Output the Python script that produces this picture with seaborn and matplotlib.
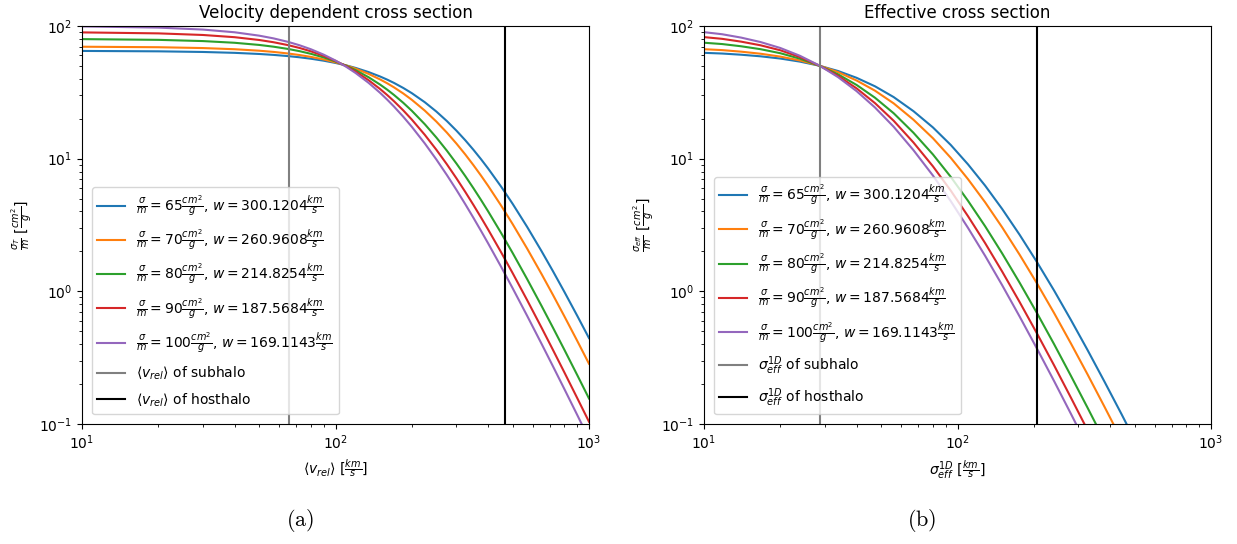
import matplotlib
matplotlib.use("Agg")
import matplotlib.pyplot as plt
import seaborn as sns

# ---------------- data ----------------
sigma0 = [65, 70, 80, 90, 100]
w_values = ["300.1204", "260.9608", "214.8254", "187.5684", "169.1143"]
colors = ["#1f77b4", "#ff7f0e", "#2ca02c", "#d62728", "#9467bd"]

# panel (a): velocity dependent cross section
v_rel = [10, 20, 30, 40, 50, 57, 65, 72, 80, 90, 100, 110, 120, 135, 150, 160,
         170, 185, 200, 225, 250, 275, 300, 325, 350, 375, 400, 450, 500, 570,
         650, 720, 800, 900, 1000]
sigT_65 = [64.86, 64.43, 63.72, 62.75, 61.54, 60.55, 59.31, 58.12, 56.66, 54.72,
           52.66, 50.52, 48.32, 44.96, 41.61, 39.41, 37.26, 34.13, 31.17, 26.64,
           22.65, 19.21, 16.26, 13.77, 11.67, 9.909, 8.43, 6.161, 4.56, 3.062,
           2.007, 1.424, 0.989, 0.6509, 0.444]
sigT_70 = [69.79, 69.19, 68.19, 66.82, 65.13, 63.77, 62.06, 60.45, 58.49, 55.91,
           53.22, 50.47, 47.70, 43.56, 39.55, 36.98, 34.50, 31.01, 27.78, 23.03,
           19.03, 15.72, 12.99, 10.76, 8.936, 7.452, 6.24, 4.433, 3.208, 2.102,
           1.349, 0.9438, 0.647, 0.4210, 0.2846]
sigT_80 = [79.65, 78.63, 76.97, 74.73, 71.99, 69.82, 67.14, 64.66, 61.70, 57.89,
           54.04, 50.22, 46.47, 41.12, 36.15, 33.10, 30.25, 26.38, 22.96, 18.19,
           14.43, 11.49, 9.19, 7.397, 5.990, 4.884, 4.009, 2.756, 1.943, 1.238,
           0.776, 0.5346, 0.362, 0.2325, 0.1557]
sigT_90 = [89.49, 87.99, 85.57, 82.34, 78.45, 75.43, 71.74, 68.37, 64.43, 59.47,
           54.57, 49.83, 45.31, 39.06, 33.48, 30.15, 27.13, 23.13, 19.71, 15.13,
           11.67, 9.073, 7.109, 5.619, 4.480, 3.604, 2.924, 1.972, 1.370, 0.8592,
           0.532, 0.3635, 0.2444, 0.1559, 0.1040]
sigT_100 = [99.30, 97.26, 93.99, 89.68, 84.57, 80.64, 75.91, 71.67, 66.77, 60.73,
            54.90, 49.38, 44.24, 37.31, 31.33, 27.84, 24.74, 20.72, 17.38, 13.03,
            9.856, 7.530, 5.815, 4.540, 3.583, 2.856, 2.300, 1.532, 1.054, 0.6545,
            0.402, 0.2734, 0.183, 0.1163, 0.0773]
v_sub = 65.3
v_host = 465.0

# panel (b): effective cross section
sigma_1d = [10, 11.80, 14, 16.71, 20, 23.90, 28.5, 33.81, 40, 47.27, 56, 67.01,
            80, 94.09, 110, 128.5, 150, 175.8, 206, 240.4, 280, 326.1, 380,
            444.1, 520]
sigE_65 = [62.77, 62.01, 60.75, 59.10, 56.84, 53.90, 50.20, 45.78, 40.67, 35.11,
           29.12, 22.82, 17.20, 12.68, 9.063, 6.265, 4.180, 2.670, 1.657, 1.015,
           0.6099, 0.3601, 0.2086, 0.1182, 0.0656]
sigE_70 = [66.85, 65.80, 64.06, 61.81, 58.80, 54.98, 50.31, 44.87, 38.83, 32.54,
           26.11, 19.67, 14.26, 10.14, 7.010, 4.693, 3.039, 1.889, 1.145, 0.6867,
           0.4055, 0.2359, 0.1349, 0.0756, 0.0416]
sigE_80 = [74.81, 73.09, 70.35, 66.88, 62.35, 56.71, 50.22, 43.21, 35.93, 28.79,
           22.00, 15.69, 10.76, 7.288, 4.814, 3.096, 1.933, 1.162, 0.6839, 0.3999,
           0.2312, 0.1323, 0.0747, 0.0414, 0.0225]
sigE_90 = [82.46, 80.01, 76.24, 71.55, 65.62, 58.35, 50.32, 42.05, 33.86, 26.21,
           19.31, 13.25, 8.755, 5.742, 3.687, 2.311, 1.411, 0.8308, 0.4801, 0.2770,
           0.1583, 0.0897, 0.0502, 0.0276, 0.0149]
sigE_100 = [89.87, 86.66, 81.78, 75.70, 68.28, 59.64, 50.40, 41.14, 32.28, 24.30,
            17.40, 11.60, 7.459, 4.781, 3.009, 1.853, 1.113, 0.6459, 0.3688,
            0.2108, 0.1196, 0.0674, 0.0375, 0.0205, 0.0110]
s_sub = 28.8
s_host = 206.0

sigT_all = [sigT_65, sigT_70, sigT_80, sigT_90, sigT_100]
sigE_all = [sigE_65, sigE_70, sigE_80, sigE_90, sigE_100]

# ---------------- figure ----------------
W, H = 1237, 544
fig = plt.figure(figsize=(W / 100, H / 100), dpi=100)
ax1 = fig.add_axes([82 / W, 1 - 424 / H, 507 / W, 398 / H])
ax2 = fig.add_axes([704 / W, 1 - 424 / H, 507 / W, 398 / H])


def label_for(s0, w):
    return (r"$\frac{\sigma}{m} = %d\frac{cm^2}{g}$, $w = %s\frac{km}{s}$"
            % (s0, w))


for s0, w, c, ys in zip(sigma0, w_values, colors, sigT_all):
    sns.lineplot(x=v_rel, y=ys, ax=ax1, color=c, linewidth=1.5,
                 label=label_for(s0, w))
ax1.axvline(v_sub, color="grey", linewidth=1.5,
            label=r"$\langle v_{rel} \rangle$ of subhalo")
ax1.axvline(v_host, color="black", linewidth=1.5,
            label=r"$\langle v_{rel} \rangle$ of hosthalo")

for s0, w, c, ys in zip(sigma0, w_values, colors, sigE_all):
    sns.lineplot(x=sigma_1d, y=ys, ax=ax2, color=c, linewidth=1.5,
                 label=label_for(s0, w))
ax2.axvline(s_sub, color="grey", linewidth=1.5,
            label=r"$\sigma_{eff}^{1D}$ of subhalo")
ax2.axvline(s_host, color="black", linewidth=1.5,
            label=r"$\sigma_{eff}^{1D}$ of hosthalo")

for ax in (ax1, ax2):
    ax.set_xscale("log")
    ax.set_yscale("log")
    ax.set_xlim(10, 1000)
    ax.set_ylim(0.1, 100)
    ax.legend(loc="lower left", fontsize=10, labelspacing=0.68,
              borderaxespad=0.7)

ax1.set_title("Velocity dependent cross section", fontsize=12)
ax2.set_title("Effective cross section", fontsize=12)
ax1.set_xlabel(r"$\langle v_{rel} \rangle$ [$\frac{km}{s}$]")
ax1.set_ylabel(r"$\frac{\sigma_T}{m}$ [$\frac{cm^2}{g}$]")
ax2.set_xlabel(r"$\sigma_{eff}^{1D}$ [$\frac{km}{s}$]")
ax2.set_ylabel(r"$\frac{\sigma_{eff}}{m}$ [$\frac{cm^2}{g}$]")

fig.text(300 / W, 1 - 521 / H, r"$\mathrm{(a)}$", math_fontfamily="cm",
         fontsize=16, ha="center", va="center")
fig.text(922 / W, 1 - 521 / H, r"$\mathrm{(b)}$", math_fontfamily="cm",
         fontsize=16, ha="center", va="center")

fig.savefig("out.png", dpi=100)
